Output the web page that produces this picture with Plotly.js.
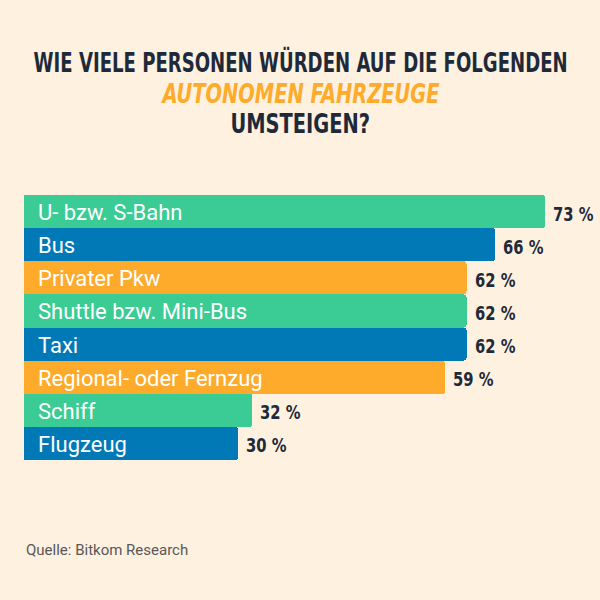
<!DOCTYPE html>
<html>
<head>
<meta charset="utf-8">
<script src="https://cdn.plot.ly/plotly-3.0.1.min.js"></script>
<style>html,body{margin:0;padding:0;background:#FEF1DF;}</style>
</head>
<body>
<div id="chart" style="width:600px;height:600px;"></div>
<script>
const categories = ["U- bzw. S-Bahn", "Bus", "Privater Pkw", "Shuttle bzw. Mini-Bus", "Taxi", "Regional- oder Fernzug", "Schiff", "Flugzeug"];
const values = [73, 66, 62, 62, 62, 59, 32, 30];
const valueLabels = values.map(v => v + " %");
const barColors = ["#3ACC94", "#0179B6", "#FEAB2C", "#3ACC94", "#0179B6", "#FEAB2C", "#3ACC94", "#0179B6"];
const titleLines = ["WIE VIELE PERSONEN WÜRDEN AUF DIE FOLGENDEN", "<i>AUTONOMEN FAHRZEUGE</i>", "UMSTEIGEN?"];
const sourceText = "Quelle: Bitkom Research";

const condFont = "'DejaVu Sans Condensed', 'Roboto Condensed', sans-serif";
const bodyFont = "Roboto, 'Noto Sans', sans-serif";
const dark = "#1E2A3A";

const traces = [
  {
    type: "bar",
    orientation: "h",
    y: categories,
    x: values,
    marker: { color: barColors, line: { width: 0 } },
    hoverinfo: "skip"
  }
];

const annotations = [];
// category names inside bars
categories.forEach(c => annotations.push({
  xref: "x", yref: "y", x: 0, y: c, text: c,
  xanchor: "left", yanchor: "middle", xshift: 12, yshift: -1, showarrow: false,
  font: { family: bodyFont, size: 22, color: "#FFFFFF" }
}));
// value labels right of bars
const valueStart = annotations.length;
values.forEach((v, i) => annotations.push({
  xref: "x", yref: "y", x: v, y: categories[i], text: valueLabels[i],
  xanchor: "left", yanchor: "middle", xshift: 6, yshift: -2, showarrow: false,
  font: { family: condFont, size: 20, color: dark, weight: 700 }
}));

const py = p => (460 - p) / 265;
const px = p => (p - 24) / 571;
const titleFont = { family: condFont, size: 27, color: dark, weight: 700 };
const titleYs = [62, 93, 123.5];
const titleScale = [0.745, 0.8, 0.8];
const titleStart = annotations.length;
titleLines.forEach((t, i) => annotations.push({
  xref: "paper", yref: "paper", x: px(300), y: py(titleYs[i]), xanchor: "center", yanchor: "middle", showarrow: false,
  text: t, font: i === 1 ? Object.assign({}, titleFont, { color: "#FEAB2C" }) : titleFont
}));
annotations.push({
  xref: "paper", yref: "paper", x: 0, y: py(550), xanchor: "left", yanchor: "middle", showarrow: false,
  text: sourceText, font: { family: bodyFont, size: 15, color: "#585858" }
});

const layout = {
  width: 600, height: 600,
  margin: { l: 24, r: 5, t: 195, b: 140 },
  paper_bgcolor: "#FEF1DF",
  plot_bgcolor: "#FEF1DF",
  showlegend: false,
  bargap: 0,
  barcornerradius: 3,
  xaxis: { range: [0, 80], visible: false, fixedrange: true },
  yaxis: { autorange: "reversed", visible: false, fixedrange: true },
  annotations: annotations
};

function squeeze(idx, sx, origin) {
  const g = document.querySelector('g.annotation[data-index="' + idx + '"] text');
  if (!g) return;
  g.style.transformBox = "fill-box";
  g.style.transformOrigin = origin;
  g.style.transform = "scaleX(" + sx + ")";
}

Plotly.newPlot("chart", traces, layout, { displayModeBar: false, staticPlot: true }).then(() => {
  for (let i = 0; i < titleLines.length; i++) squeeze(titleStart + i, titleScale[i], "center");
  for (let i = 0; i < values.length; i++) squeeze(valueStart + i, 0.82, "left");
});
</script>
</body>
</html>
